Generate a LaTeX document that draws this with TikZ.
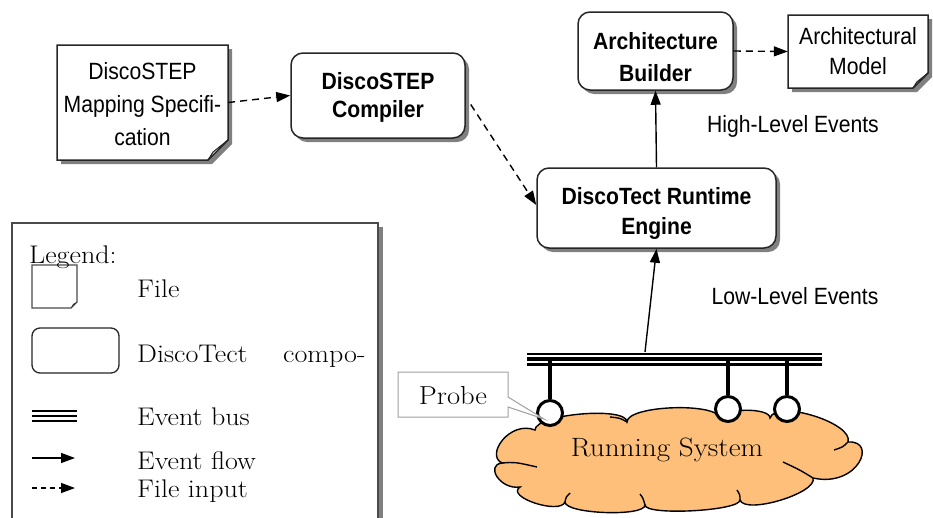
\documentclass[tikz,border=0pt]{standalone}
\usepackage{fontspec}
\setmainfont[FakeStretch=1.1]{Latin Modern Roman}
\newfontfamily\sansf[FakeStretch=0.9]{Liberation Sans}
\usetikzlibrary{arrows.meta,shadows}

\definecolor{cloudfill}{RGB}{253,191,122}
\definecolor{shadowgray}{RGB}{128,128,128}
\definecolor{edgegray}{RGB}{75,75,75}
\definecolor{calloutgray}{RGB}{160,160,160}

% sheet of paper with a curled lower-right corner: x0,y0,x1,y1,fold
\newcommand\paperfile[5]{%
  \fill[shadowgray] (#1+4,#2+4) -- (#3+4,#2+4) -- (#3+4,#4+4-#5) -- (#3+4-#5,#4+4) -- (#1+4,#4+4) -- cycle;
  \filldraw[fill=white, draw=black!85, line width=1.5pt] (#1,#2) -- (#3,#2) -- (#3,#4-#5) -- (#3-#5,#4) -- (#1,#4) -- cycle;
  \filldraw[fill=gray!40, draw=black!85, line width=1pt, line join=round] (#3,#4-#5) -- (#3-#5,#4) -- (#3-0.75*#5,#4-0.4*#5) -- cycle;
}

\tikzset{
  comp/.style={draw=black!85, line width=1.5pt, rounded corners=12pt, fill=white, inner sep=0pt,
    drop shadow={shadow xshift=4pt, shadow yshift=-4pt, fill=shadowgray, opacity=1}},
  comptext/.style={align=center, inner sep=0pt, font=\sansf\bfseries\fontsize{23.5}{29}\selectfont},
  filetext/.style={align=center, inner sep=0pt, font=\sansf\fontsize{23.5}{30}\selectfont},
  sanslabel/.style={inner sep=0pt, font=\sansf\fontsize{23.5}{28}\selectfont},
  seriflabel/.style={inner sep=0pt, font=\fontsize{25.5}{30}\selectfont},
  legtext/.style={seriflabel, anchor=base west},
  flow/.style={line width=1.4pt, -{Triangle[length=14pt,width=10pt]}},
  fileflow/.style={flow, dash pattern=on 7pt off 5pt},
  probe/.style={circle, draw, line width=3pt, fill=white, minimum size=25pt, inner sep=0pt},
  stem/.style={line width=4pt},
  cloudline/.style={draw=black, line width=1.4pt},
}

\begin{document}
\begin{tikzpicture}[x=1pt,y=-1pt]
\useasboundingbox (0,0) rectangle (933,517);

% ---------- files ----------
\paperfile{57}{45}{228}{160}{20}
\node[inner sep=0pt, minimum width=171pt, minimum height=115pt] (spec) at (142.5,102.5) {};
\node[filetext, font=\sansf\fontsize{23.5}{33}\selectfont] (specT) at (142.5,104) {DiscoSTEP\\Mapping Specifi-\\cation};

\paperfile{788}{15}{928}{88}{15}
\node[inner sep=0pt, minimum width=140pt, minimum height=73pt] (model) at (858,51.5) {};
\node[filetext] (modelT) at (858,51) {Architectural\\Model};

% ---------- components ----------
\node[comp, minimum width=174pt, minimum height=85pt] (compiler) at (378,95.5) {};
\node[comptext, font=\sansf\bfseries\fontsize{23.5}{28}\selectfont] (compilerT) at (378,97.5) {DiscoSTEP\\Compiler};
\node[comp, minimum width=155pt, minimum height=78pt] (builder) at (655.5,51) {};
\node[comptext, font=\sansf\bfseries\fontsize{23.5}{32}\selectfont] (builderT) at (655.5,57) {Architecture\\Builder};
\node[comp, minimum width=239pt, minimum height=80pt] (engine) at (656.5,208) {};
\node[comptext, font=\sansf\bfseries\fontsize{23.5}{30}\selectfont] (engineT) at (656.5,213) {DiscoTect Runtime\\Engine};

% ---------- connectors ----------
\draw[fileflow] (spec.east) -- (compiler.west);
\draw[fileflow] ([xshift=5pt,yshift=-9pt]compiler.east) -- ([yshift=3pt]engine.west);
\draw[flow] (engine.north) -- (builder.south);
\draw[fileflow] (builder.east) -- (model.west);

\node[sanslabel] (high) at (793,126) {High-Level Events};
\node[sanslabel] (low) at (795,296) {Low-Level Events};

% ---------- running system ----------
\filldraw[fill=cloudfill, cloudline]
  (535,430) .. controls (535,414) and (627,406) .. (627,422)
  .. controls (627,405) and (720,402) .. (720,419)
  .. controls (720,408) and (770,407) .. (770,418)
  .. controls (776,399) and (854,423) .. (848,442)
  .. controls (878,440) and (858,488) .. (813,478)
  .. controls (818,493) and (745,515) .. (740,500)
  .. controls (740,511) and (645,516) .. (645,505)
  .. controls (645,517) and (565,514) .. (565,502)
  .. controls (560,515) and (505,497) .. (520,487)
  .. controls (500,490) and (485,465) .. (502,463)
  .. controls (485,455) and (510,420) .. (535,430) -- cycle;
\draw[cloudline] (502,463) .. controls (515,462) .. (537,467);
\draw[cloudline] (627,422) .. controls (620,418) .. (610,417);
\draw[cloudline] (848,442) .. controls (843,447) .. (834,450);
\draw[cloudline] (813,478) .. controls (800,470) .. (783,462);
\draw[cloudline] (740,500) .. controls (740,495) .. (737,490);
\draw[cloudline] (645,505) .. controls (643,498) .. (640,494);
\draw[cloudline] (565,502) .. controls (566,497) .. (570,493);
\node[seriflabel, font=\fontsize{26.5}{30}\selectfont] (system) at (667,450) {Running System};

% ---------- event bus and probes ----------
\coordinate (busL) at (527,359);
\coordinate (busR) at (822,359);
\draw[line width=2pt] ([yshift=5.5pt]busL) -- ([yshift=5.5pt]busR);
\draw[line width=3.5pt] (busL) -- (busR);
\draw[line width=3.5pt] ([yshift=-5.5pt]busL) -- ([yshift=-5.5pt]busR);

\node[probe] (p1) at (550,413) {};
\node[probe] (p2) at (728,409) {};
\node[probe] (p3) at (787,409) {};
\draw[stem] (p1.north |- busL) -- (p1.north);
\draw[stem] (p2.north |- busL) -- (p2.north);
\draw[stem] (p3.north |- busL) -- (p3.north);

\coordinate (tap) at (645,352);
\draw[flow] (tap) -- (engine.south);

% probe callout
\filldraw[fill=white, draw=calloutgray, line width=1pt]
  (398,372) -- (508,372) -- (508,397) -- (544,419) -- (508,407) -- (508,417) -- (398,417) -- cycle;
\node[seriflabel, font=\fontsize{26}{30}\selectfont] (probetext) at (453,396) {Probe};

% ---------- legend ----------
\fill[shadowgray] (378,227) rectangle (383,530);
\filldraw[fill=white, draw=edgegray, line width=1.5pt] (12,223) rectangle (378,530);

\draw[draw=edgegray, line width=1.2pt, fill=white] (32,265) -- (77,265) -- (77,302) -- (71,308) -- (32,308) -- cycle;
\fill[black!80] (77,302) -- (71,308) -- (73,304) -- cycle;
\node[legtext] (legtitle) at (29,263) {Legend:};

\draw[draw=black!85, line width=1.3pt, rounded corners=8pt] (32,328) rectangle (119,373);
\draw[line width=2.8pt] (32,411) -- (77,411);
\draw[line width=2.8pt] (32,416) -- (77,416);
\draw[line width=2.8pt] (32,421) -- (77,421);
\coordinate (legA1) at (32,458);
\coordinate (legA2) at (75,458);
\draw[flow] (legA1) -- (legA2);
\coordinate (legB1) at (32,488);
\coordinate (legB2) at (75,488);
\draw[flow, dash pattern=on 5pt off 4pt] (legB1) -- (legB2);

\node[legtext] (lfile) at (137,297) {File};
\node[legtext] (lcomp) at (137,362) {DiscoTect};
\node[legtext] (lcomp2) at (283,362) {compo-};
\node[legtext] (lbus) at (137,425) {Event bus};
\node[legtext] (lflow) at (137,469) {Event flow};
\node[legtext] (linput) at (137,497) {File input};
\end{tikzpicture}
\end{document}
